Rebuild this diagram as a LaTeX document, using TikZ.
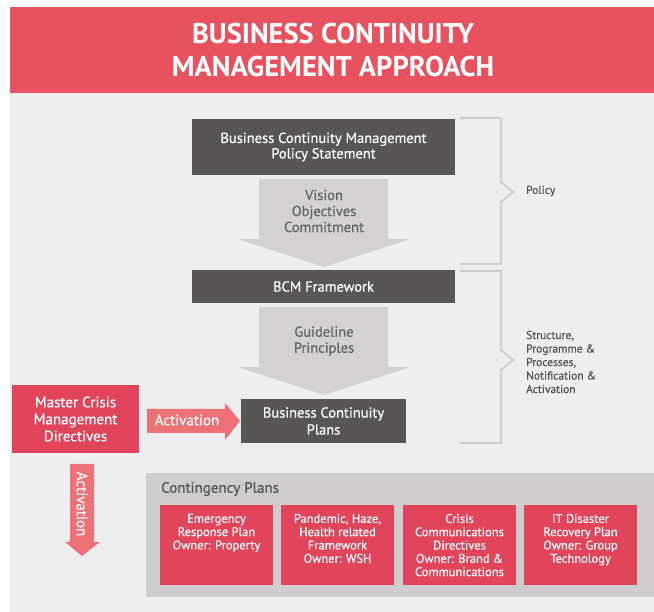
\documentclass[tikz,border=0pt]{standalone}
\usepackage{fontspec}
\setmainfont{PT Sans}
\newfontfamily\med{PT Sans}[FakeBold=0.6]
\usetikzlibrary{positioning}
\definecolor{titlered}{HTML}{E8525F}
\definecolor{bgcol}{HTML}{EDEEED}
\definecolor{dkgray}{HTML}{575654}
\definecolor{arrgray}{HTML}{D3D1D2}
\definecolor{arrtext}{HTML}{646464}
\definecolor{brk}{HTML}{CFCDCE}
\definecolor{boxred}{HTML}{E2455B}
\definecolor{actpink}{HTML}{EE7177}
\definecolor{panelcol}{HTML}{D0CDCE}
\definecolor{txtgray}{HTML}{555555}
\begin{document}
\begin{tikzpicture}[x=1pt,y=-1pt,
  darkbox/.style={fill=dkgray, text=white, inner sep=0pt, align=center, font=\med\fontsize{14.5}{15.5}\selectfont},
  redbox/.style={fill=boxred, text=white, inner sep=0pt, align=center},
  cpbox/.style={fill=boxred, inner sep=0pt, minimum width=113, minimum height=80},
  cptext/.style={text=white, inner sep=0pt, align=center, font=\med\fontsize{12.5}{13.3}\selectfont},
  arrtxt/.style={text=arrtext, inner sep=0pt, align=center, font=\med\fontsize{14.5}{16}\selectfont},
  acttxt/.style={text=white, inner sep=0pt, font=\med\fontsize{15}{16}\selectfont},
  sidetxt/.style={text=txtgray, inner sep=0pt, align=left, font=\med\fontsize{11.5}{13.5}\selectfont},
  bracket/.style={draw=brk, line width=2pt},
]
\useasboundingbox (0,0) rectangle (654,612);
\fill[white] (0,0) rectangle (654,612);
\fill[bgcol] (10,93) rectangle (654,612);
\fill[titlered] (10,7) rectangle (654,93);
\node[text=white, inner sep=0pt, align=center, font=\fontsize{28.5}{33}\selectfont\bfseries] (title) at (333,50) {BUSINESS CONTINUITY\\MANAGEMENT APPROACH};

% block arrows
\fill[arrgray] (259,179) -- (388,179) -- (388,239) -- (410,239) -- (324,267) -- (238,239) -- (259,239) -- cycle;
\fill[arrgray] (259,307) -- (388,307) -- (388,367) -- (410,367) -- (324,395) -- (238,367) -- (259,367) -- cycle;

\node[darkbox, minimum width=263, minimum height=56] (bcmps) at (323.5,147) {Business Continuity Management\\Policy Statement};
\node[arrtxt] (vision) at (324,211) {Vision\\Objectives\\Commitment};
\node[darkbox, minimum width=263, minimum height=33] (bcmf) at (323.5,286.5) {BCM Framework};
\node[arrtxt] (guide) at (324,341) {Guideline\\Principles};
\node[darkbox, minimum width=165, minimum height=44, font=\med\fontsize{14.5}{17}\selectfont] (bcp) at (323.5,421) {Business Continuity\\Plans};

% brackets
\draw[bracket] (460,118) -- (501,118) -- (501,182) -- (513,192) -- (501,202) -- (501,264) -- (460,264);
\draw[bracket] (460,271) -- (501,271) -- (501,350) -- (513,360) -- (501,370) -- (501,443) -- (460,443);
\node[sidetxt, anchor=west] (policy) at (526,191) {Policy};
\node[sidetxt, anchor=west] (struct) at (526,362) {Structure,\\Programme \&\\Processes,\\Notification \&\\Activation};

% master crisis
\node[redbox, minimum width=127, minimum height=68, font=\med\fontsize{15}{17}\selectfont] (mcmd) at (75.5,419) {Master Crisis\\Management\\Directives};
\fill[actpink] (147,409) -- (225,409) -- (225,403) -- (240,421) -- (225,440) -- (225,433) -- (147,433) -- cycle;
\node[acttxt] (act1) at (187,420) {Activation};
\fill[actpink] (70,464) -- (94,464) -- (94,542) -- (100,542) -- (82,556) -- (65,542) -- (70,542) -- cycle;
\node[acttxt, rotate=-90] (act2) at (82,504) {Activation};

% contingency panel
\fill[panelcol] (146,473) rectangle (654,597);
\node[text=txtgray, inner sep=0pt, anchor=west, font=\med\fontsize{15}{16}\selectfont] (cplabel) at (161,489) {Contingency Plans};
\node[cpbox] (erp) at (216.5,545) {};
\node[cpbox] (pan) at (337.5,545) {};
\node[cpbox] (ccd) at (459.5,545) {};
\node[cpbox] (itd) at (580.5,545) {};
\node[cptext, below=9pt of erp.north] (erpt) {Emergency\\Response Plan\\Owner: Property};
\node[cptext, below=9pt of pan.north] (pant) {Pandemic, Haze,\\Health related\\Framework\\Owner: WSH};
\node[cptext, below=9pt of ccd.north] (ccdt) {Crisis\\Communications\\Directives\\Owner: Brand \&\\Communications};
\node[cptext, below=9pt of itd.north] (itdt) {IT Disaster\\Recovery Plan\\Owner: Group\\Technology};
\end{tikzpicture}
\end{document}
